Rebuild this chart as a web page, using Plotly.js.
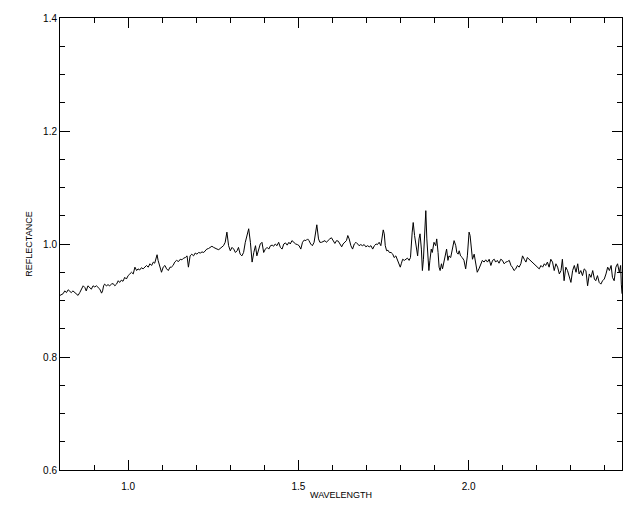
<!DOCTYPE html>
<html>
<head>
<meta charset="utf-8">
<script src="https://cdn.plot.ly/plotly-3.0.1.min.js"></script>
<style>html,body{margin:0;padding:0;background:#fff;}#chart{width:640px;height:512px;}</style>
</head>
<body>
<div id="chart"></div>
<script>
var wavelength = [
0.800,0.809,0.814,0.819,0.824,0.828,0.833,0.838,0.843,0.848,0.853,0.858,0.863,0.868,0.873,0.877,0.882,0.887,0.892,0.897,0.902,0.907,0.912,0.917,0.922,0.925,0.928,0.931,0.936,0.941,0.946,0.951,0.956,0.961,0.966,0.971,0.975,0.980,0.985,0.990,0.995,1.000,1.005,1.010,1.015,1.020,1.025,1.029,1.034,1.039,1.044,1.049,1.054,1.059,1.064,1.069,1.074,1.078,1.085,1.088,1.093,1.098,1.103,1.108,1.113,1.118,1.123,1.127,1.132,1.137,1.142,
1.148,1.153,1.158,1.163,1.168,1.173,1.177,1.182,1.187,1.192,1.197,1.202,1.207,1.212,1.217,1.222,1.226,1.231,1.236,1.241,1.246,1.251,1.256,1.261,1.266,1.271,1.275,1.280,1.285,1.290,1.295,1.300,1.305,1.310,1.315,1.320,1.324,1.329,1.334,1.339,1.344,1.349,1.354,1.359,1.364,1.369,1.374,1.378,1.383,1.388,1.393,1.398,1.403,1.408,1.413,1.418,1.423,1.427,1.432,1.437,1.442,1.447,1.452,1.457,1.462,1.467,1.472,1.476,1.481,1.486,
1.492,1.497,1.502,1.507,1.512,1.517,1.522,1.527,1.531,1.536,1.541,1.546,1.551,1.554,1.559,1.563,1.568,1.573,1.578,1.582,1.587,1.592,1.597,1.602,1.607,1.612,1.617,1.622,1.627,1.631,1.636,1.641,1.645,1.649,1.654,1.659,1.664,1.669,1.674,1.678,1.683,1.688,1.693,1.698,1.703,1.708,1.713,1.718,1.723,1.728,1.732,1.737,1.742,1.745,1.749,1.752,1.755,1.759,1.763,1.767,1.772,1.777,1.781,1.786,1.791,1.796,1.799,1.802,1.806,1.811,
1.815,1.820,1.825,1.829,1.834,1.837,1.841,1.846,1.850,1.854,1.857,1.861,1.864,1.867,1.871,1.874,1.877,1.880,1.883,1.886,1.890,1.893,1.898,1.903,1.906,1.910,1.913,1.916,1.920,1.923,1.927,1.932,1.935,1.939,1.942,1.947,1.952,1.957,1.962,1.965,1.969,1.972,1.976,1.981,1.986,1.991,1.996,2.001,2.004,2.008,2.011,2.016,2.021,2.025,2.030,2.035,2.040,2.045,2.050,2.055,2.060,2.065,2.070,2.075,2.079,2.084,2.089,2.094,2.099,2.104,2.109,2.114,2.119,
2.124,2.128,2.133,2.138,2.143,2.148,2.153,2.158,2.163,2.168,2.172,2.177,2.182,2.187,2.192,2.197,2.202,2.207,2.212,2.217,2.222,2.226,2.231,2.236,2.241,2.246,2.251,2.256,2.261,2.266,2.271,2.275,2.280,2.285,2.290,2.295,2.300,2.305,2.310,2.315,2.320,2.324,2.329,2.334,2.339,2.344,2.349,2.354,2.359,2.364,2.369,2.373,2.378,2.383,2.388,2.393,2.398,2.403,2.408,2.413,2.418,2.422,2.427,2.432,2.437,2.442,2.446,2.448,2.450
];
var reflectance = [
0.909,0.912,0.917,0.914,0.919,0.917,0.914,0.917,0.914,0.912,0.909,0.914,0.920,0.926,0.923,0.917,0.926,0.923,0.920,0.926,0.924,0.926,0.923,0.920,0.913,0.917,0.926,0.929,0.926,0.928,0.926,0.929,0.930,0.926,0.929,0.935,0.932,0.936,0.934,0.941,0.938,0.944,0.947,0.950,0.947,0.959,0.953,0.956,0.954,0.958,0.956,0.959,0.962,0.959,0.965,0.962,0.968,0.966,0.981,0.971,0.959,0.950,0.959,0.962,0.956,0.953,0.959,0.959,0.962,0.968,0.971,
0.969,0.973,0.972,0.975,0.976,0.979,0.959,0.979,0.982,0.979,0.984,0.982,0.985,0.984,0.986,0.985,0.988,0.991,0.992,0.994,0.996,0.994,0.992,0.991,0.990,0.992,0.994,0.997,1.003,1.021,0.997,0.988,0.994,0.991,0.985,0.988,0.994,0.982,0.979,0.985,1.003,1.015,1.027,1.003,0.968,0.985,0.997,0.979,0.991,1.000,1.003,0.985,0.991,0.994,0.991,0.997,0.998,0.996,1.000,0.997,1.003,0.994,0.991,1.000,1.002,0.998,1.003,1.000,1.006,1.003,
1.000,0.999,0.997,0.991,1.003,1.007,1.006,1.009,1.006,1.000,0.997,1.003,1.024,1.034,1.009,1.003,1.003,1.005,1.006,1.003,1.007,1.009,1.011,1.006,1.001,1.006,1.005,1.000,0.995,1.000,1.003,1.006,1.015,1.009,0.997,0.991,1.000,1.003,1.000,0.997,0.999,0.997,0.999,0.995,0.997,0.995,0.997,0.991,0.997,1.000,0.999,1.003,0.997,1.012,1.025,1.018,0.997,0.988,0.989,0.985,0.985,0.982,0.976,0.979,0.971,0.962,0.959,0.965,0.973,0.971,
0.973,0.975,0.971,0.976,1.021,1.038,1.015,0.991,0.979,1.009,1.018,0.991,0.953,0.973,1.021,1.059,1.009,0.979,0.953,0.971,0.991,0.985,1.003,0.997,1.009,0.985,0.959,0.953,0.965,0.956,0.968,0.985,0.991,0.971,0.979,0.976,0.994,1.006,0.997,0.985,0.982,0.988,0.979,0.976,0.971,0.956,0.979,1.021,1.015,0.985,0.973,0.982,0.959,0.950,0.956,0.965,0.971,0.968,0.972,0.968,0.973,0.962,0.971,0.973,0.968,0.971,0.966,0.973,0.971,0.965,0.968,0.969,0.971,
0.962,0.959,0.953,0.956,0.962,0.959,0.965,0.979,0.973,0.968,0.976,0.973,0.971,0.968,0.965,0.962,0.959,0.956,0.962,0.959,0.965,0.962,0.968,0.959,0.973,0.968,0.953,0.965,0.959,0.947,0.953,0.973,0.935,0.959,0.953,0.941,0.932,0.953,0.962,0.950,0.965,0.947,0.953,0.944,0.956,0.953,0.926,0.947,0.941,0.953,0.938,0.935,0.944,0.932,0.929,0.935,0.938,0.947,0.959,0.953,0.962,0.941,0.935,0.959,0.965,0.950,0.962,0.929,0.912
];
var xTitle = 'WAVELENGTH';
var yTitle = 'REFLECTANCE';

var n = Math.min(wavelength.length, reflectance.length);
var fontFam = '"Liberation Sans", Arial, sans-serif';

var trace = {
  x: wavelength.slice(0, n),
  y: reflectance.slice(0, n),
  type: 'scatter',
  mode: 'lines',
  line: {color: '#000', width: 1},
  hoverinfo: 'skip'
};

function axisBase() {
  return {
    showline: true, mirror: 'allticks', linecolor: '#000', linewidth: 1,
    ticks: 'inside', ticklen: 10, tickwidth: 1, tickcolor: '#000',
    showgrid: false, zeroline: false,
    tickfont: {family: fontFam, size: 10, color: '#000'},
    tickformat: '.1f',
    tickmode: 'linear', tick0: 0
  };
}

var xa = axisBase();
xa.range = [0.8, 2.45];
xa.dtick = 0.5;
xa.ticklabelstandoff = 7;
xa.minor = {dtick: 0.1, tick0: 0, ticks: 'inside', ticklen: 5, tickwidth: 1, tickcolor: '#000', showgrid: false};
xa.title = {text: xTitle, font: {family: fontFam, size: 9, color: '#000'}, standoff: 0};

var ya = axisBase();
ya.range = [0.6, 1.4];
ya.dtick = 0.2;
ya.minor = {dtick: 0.05, tick0: 0, ticks: 'inside', ticklen: 5, tickwidth: 1, tickcolor: '#000', showgrid: false};
ya.title = {text: yTitle, font: {family: fontFam, size: 9, color: '#000'}, standoff: 8};

var layout = {
  width: 640, height: 512,
  margin: {l: 60, r: 18, t: 18, b: 42},
  paper_bgcolor: '#fff', plot_bgcolor: '#fff',
  showlegend: false,
  xaxis: xa, yaxis: ya
};

Plotly.newPlot('chart', [trace], layout, {staticPlot: true, displayModeBar: false});
</script>
</body>
</html>
